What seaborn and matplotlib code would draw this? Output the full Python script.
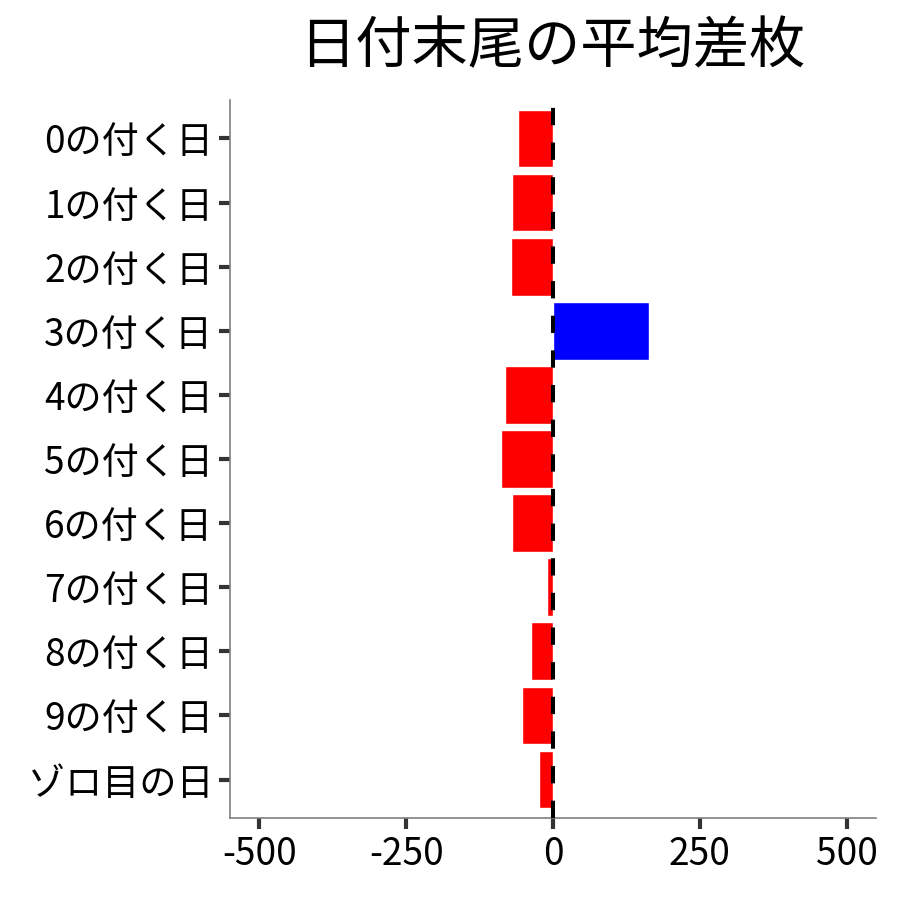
import numpy as np
import pandas as pd
import seaborn as sns
import matplotlib.pyplot as plt

# DATA

labels = ["0の付く日", "1の付く日", "2の付く日", "3の付く日", "4の付く日",
          "5の付く日", "6の付く日", "7の付く日", "8の付く日", "9の付く日", "ゾロ目の日"]
diff = [-59, -69, -71, 164, -82, -89, -69, -11, -38, -52, -23]

df = pd.DataFrame({"label": labels, "diff": diff})
df["sign"] = np.where(df["diff"] >= 0, "plus", "minus")

# PLOT

sns.set_theme(style="white")
plt.rcParams["font.family"] = ["Noto Sans CJK JP", "DejaVu Sans"]

fig = plt.figure(figsize=(9, 9), dpi=100)
ax = fig.add_axes([0.2556, 0.0911, 0.7177, 0.7978])

sns.barplot(
    data=df,
    x="diff",
    y="label",
    hue="sign",
    palette={"plus": "#0000FF", "minus": "#FF0000"},
    orient="h",
    width=0.9,
    dodge=False,
    legend=False,
    saturation=1,
    ax=ax
)

ax.axvline(0, color="black", linewidth=2.9, linestyle=(0, (4.3, 4.3)), zorder=5)

ax.set_xlim(-550, 550)
ax.set_ylim(10.6, -0.6)
ax.set_xticks([-500, -250, 0, 250, 500])
ax.set_xticklabels(["-500", "-250", "0", "250", "500"])

ax.set_xlabel("")
ax.set_ylabel("")

for side in ["top", "right"]:
    ax.spines[side].set_visible(False)
for side in ["left", "bottom"]:
    ax.spines[side].set_color("#7f7f7f")
    ax.spines[side].set_linewidth(1.2)

ax.tick_params(
    axis="both",
    which="major",
    length=8,
    width=3,
    color="#333333",
    labelsize=26.7,
    labelcolor="black",
    pad=4,
    bottom=True,
    left=True
)

fig.suptitle("日付末尾の平均差枚", x=0.614, y=0.979, fontsize=40.5,
             va="top", color="black")

plt.savefig("out.png", dpi=100, facecolor="white")
plt.close()
